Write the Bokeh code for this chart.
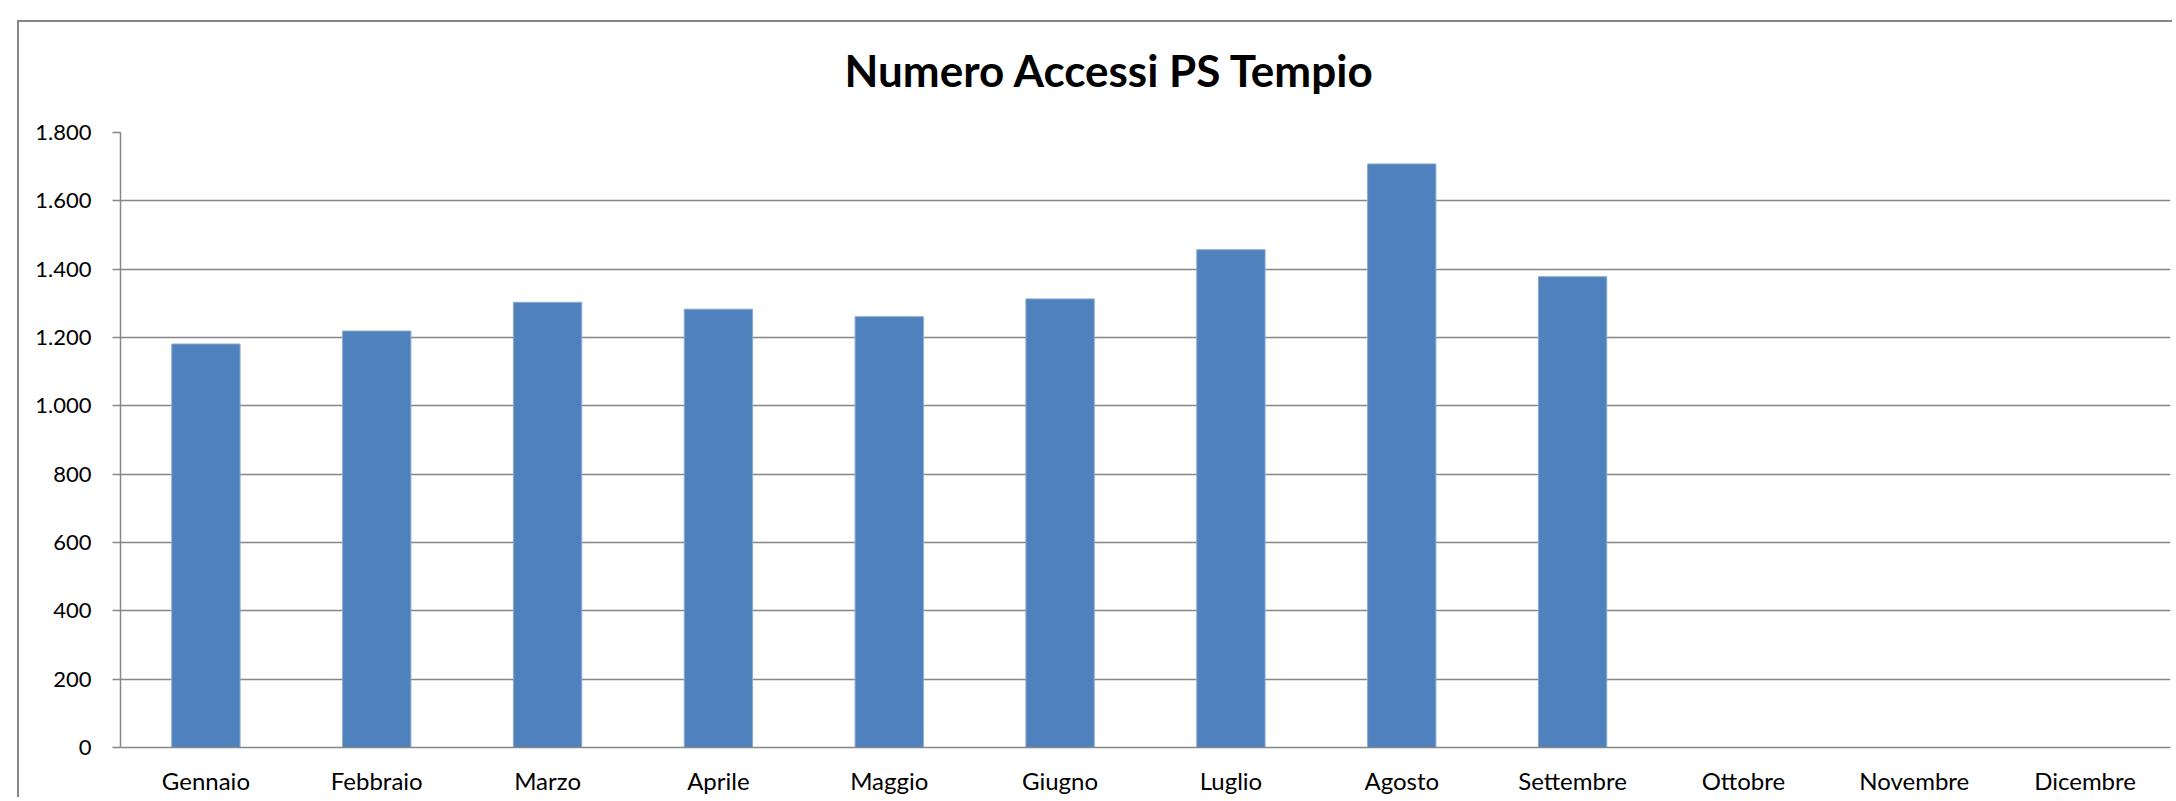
from bokeh.plotting import figure
from bokeh.models import FactorRange, Range1d, FixedTicker, Title
from bokeh.embed import file_html
from bokeh.resources import INLINE

# ---- data ----
months = ["Gennaio", "Febbraio", "Marzo", "Aprile", "Maggio", "Giugno",
          "Luglio", "Agosto", "Settembre", "Ottobre", "Novembre", "Dicembre"]
months_with_data = ["Gennaio", "Febbraio", "Marzo", "Aprile", "Maggio", "Giugno",
                    "Luglio", "Agosto", "Settembre"]
accessi = [1181, 1219, 1303, 1283, 1261, 1313, 1457, 1708, 1378]
y_ticks = [0, 200, 400, 600, 800, 1000, 1200, 1400, 1600, 1800]
y_tick_labels = ["0", "200", "400", "600", "800", "1.000", "1.200", "1.400", "1.600", "1.800"]
title_text = "Numero Accessi PS Tempio"

GRID = "#868686"
BAR = "#4F81BD"
FONT = "Lato"

p = figure(
    x_range=FactorRange(factors=months),
    y_range=Range1d(0, 1800),
    width=2172, height=797,
    output_backend="svg", toolbar_location=None,
    min_border_left=120, min_border_right=2,
    min_border_top=132, min_border_bottom=50,
    title=None,
)
# outer chart-area border (top and left edges), drawn behind a transparent canvas border
p.styles = {
    "background-image": f"linear-gradient({GRID}, {GRID}), linear-gradient({GRID}, {GRID})",
    "background-size": "2px 100%, 100% 2px",
    "background-position": "17px 20px, 17px 20px",
    "background-repeat": "no-repeat",
}

p.vbar(x=months_with_data, top=accessi, width=0.4,
       fill_color=BAR, line_color="#8DAAD4", line_width=1)

t = Title(text=title_text, text_font=FONT, text_font_size="44px",
          text_font_style="bold", text_color="black", align="left",
          offset=724, standoff=73)
p.add_layout(t, "above")

p.outline_line_color = None
p.background_fill_color = "white"
p.border_fill_color = None

# y axis
p.yaxis.ticker = FixedTicker(ticks=y_ticks)
p.yaxis.major_label_overrides = {float(v): s for v, s in zip(y_ticks, y_tick_labels)}
p.yaxis.axis_line_color = GRID
p.yaxis.axis_line_width = 1.5
p.yaxis.major_tick_line_color = GRID
p.yaxis.major_tick_line_width = 1.5
p.yaxis.major_tick_out = 8
p.yaxis.major_tick_in = 0
p.yaxis.minor_tick_line_color = None
p.yaxis.major_label_text_font = FONT
p.yaxis.major_label_text_font_size = "22px"
p.yaxis.major_label_text_color = "black"
p.yaxis.major_label_standoff = 21

# x axis
p.xaxis.axis_line_color = GRID
p.xaxis.axis_line_width = 1.5
p.xaxis.major_tick_line_color = None
p.xaxis.minor_tick_line_color = None
p.xaxis.major_label_text_font = FONT
p.xaxis.major_label_text_font_size = "24px"
p.xaxis.major_label_text_color = "black"
p.xaxis.major_label_standoff = 12

# grid
p.xgrid.grid_line_color = None
p.ygrid.ticker = FixedTicker(ticks=y_ticks)
p.ygrid.grid_line_color = GRID
p.ygrid.grid_line_width = 1.5

open("out.html", "w").write(file_html(p, INLINE))
